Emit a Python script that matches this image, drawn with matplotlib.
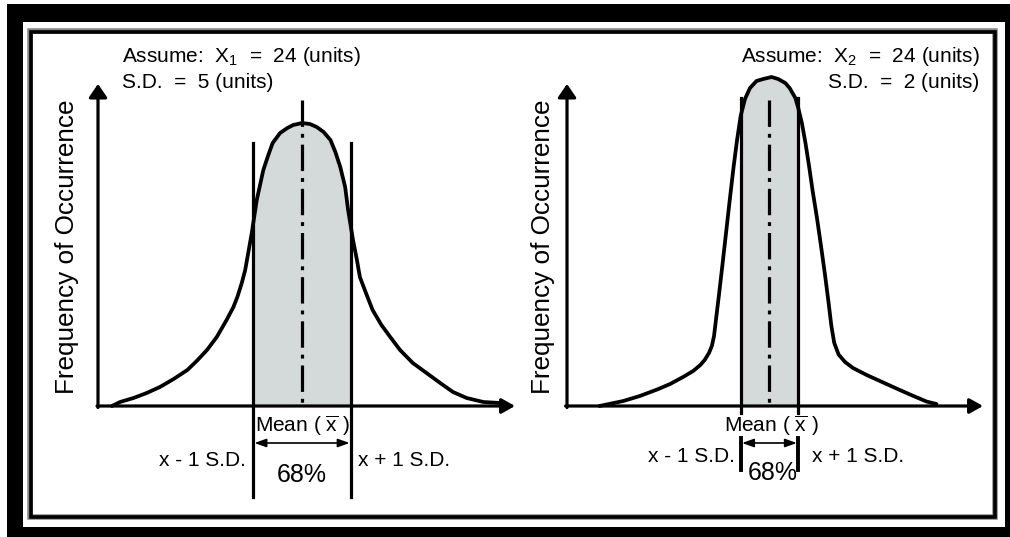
import numpy as np
import matplotlib
matplotlib.use('Agg')
import matplotlib.pyplot as plt
from matplotlib.patches import Rectangle

plt.rcParams['font.family'] = ['Liberation Sans', 'DejaVu Sans']
plt.rcParams['mathtext.fontset'] = 'custom'
plt.rcParams['mathtext.rm'] = 'Liberation Sans'
plt.rcParams['mathtext.it'] = 'Liberation Sans:italic'
plt.rcParams['lines.scale_dashes'] = False

MEAN = 24
SD_LEFT = 5
SD_RIGHT = 2

# curves (x in units, y = relative frequency)
left_x = [4.6, 5.43, 6.8, 8.15, 9.5, 10.9, 12.3, 13.25, 14.3, 15.3, 16.3, 17.0, 17.4, 17.85,
          18.2, 18.87, 19.38, 20.05, 20.56, 21.0, 21.76, 22.5, 23.1, 24.0, 24.8, 25.5, 26.2,
          26.9, 27.4, 27.9, 28.4, 28.7, 29.2, 29.6, 29.9, 30.6, 31.2, 32.1, 33.0, 34.0, 35.3,
          36.7, 38.1, 39.4, 40.8, 42.5, 44.2]
left_y = [0.0, 0.04, 0.08, 0.13, 0.19, 0.27, 0.36, 0.45, 0.56, 0.69, 0.86, 0.99, 1.09, 1.23,
          1.36, 1.73, 2.06, 2.36, 2.51, 2.63, 2.73, 2.78, 2.81, 2.83, 2.82, 2.79, 2.74,
          2.66, 2.54, 2.39, 2.19, 1.96, 1.66, 1.46, 1.29, 1.11, 0.96, 0.81, 0.69, 0.56, 0.43,
          0.33, 0.23, 0.14, 0.08, 0.04, 0.03]

right_x = [12.2, 13.85, 15.0, 16.2, 17.1, 18.0, 18.7, 19.2, 19.5, 19.8, 20.0, 20.15, 20.3, 20.5,
           20.75, 21.0, 21.25, 21.5, 21.75, 22.0, 22.3, 22.65, 23.1, 23.57, 24.15, 24.6,
           25.1, 25.4, 25.8, 26.0, 26.25, 26.5, 26.75, 27.0, 27.3, 27.6, 27.85, 28.1, 28.3,
           28.5, 28.8, 29.25, 29.8, 30.75, 31.9, 33.05, 34.0, 34.9, 35.6]
right_y = [0.0, 0.05, 0.10, 0.165, 0.22, 0.29, 0.35, 0.41, 0.46, 0.53, 0.60, 0.70, 0.88, 1.12,
           1.43, 1.75, 2.07, 2.38, 2.66, 2.90, 3.07, 3.18, 3.25, 3.27, 3.29, 3.27,
           3.23, 3.18, 3.08, 2.98, 2.83, 2.63, 2.40, 2.15, 1.88, 1.58, 1.32, 1.04, 0.80,
           0.63, 0.515, 0.44, 0.38, 0.31, 0.235, 0.16, 0.10, 0.045, 0.02]

ylabel = 'Frequency of Occurrence'
left_note = ['Assume:  X$_1$  =  24 (units)', 'S.D.  =  5 (units)']
right_note = ['Assume:  X$_2$  =  24 (units)', 'S.D.  =  2 (units)']

W, H = 1010, 537
GRAY = '#d4d9d9'

fig = plt.figure(figsize=(W / 100, H / 100), dpi=100)
fig.patch.set_facecolor('white')


def px_axes(x0, y0, x1, y1):
    return fig.add_axes([x0 / W, 1 - y1 / H, (x1 - x0) / W, (y1 - y0) / H])


# frame
frame = px_axes(0, 0, W, H)
frame.set_xlim(0, W)
frame.set_ylim(H, 0)
frame.axis('off')
frame.add_patch(Rectangle((7, 4), W - 7, H - 4, fc='black', ec='none'))
frame.add_patch(Rectangle((23, 22), 982, 505, fc='white', ec='none'))
frame.add_patch(Rectangle((30, 31), 965, 486, fill=False, ec='#888888', lw=4.0))
frame.add_patch(Rectangle((30.5, 31.5), 964, 485, fill=False, ec='black', lw=2.6))


def draw_panel(ax, xs, ys, sd, xlim, full_sd_lines):
    ax.set_xlim(*xlim)
    ax.set_ylim(0, 3.22)
    ax.axis('off')
    ax.patch.set_visible(False)
    lo, hi = MEAN - sd, MEAN + sd

    poly = ax.fill_between(xs, ys, 0, color=GRAY, lw=0, zorder=1)
    poly.set_clip_path(Rectangle((lo, 0), hi - lo, 5, transform=ax.transData))

    ax.plot(xs, ys, color='black', lw=2.7, solid_joinstyle='round',
            solid_capstyle='round', clip_on=False, zorder=3)

    # mean line
    ax.plot([MEAN, MEAN], [3.06, 0], color='black', lw=2.3,
            linestyle=(0, (19, 5, 2.8, 5)), dash_capstyle='butt', zorder=4, clip_on=False)

    # +-1 SD lines
    if full_sd_lines:
        for xv in (lo, hi):
            ax.plot([xv, xv], [2.63, -0.91], color='black', lw=2.3, clip_on=False, zorder=4)
    else:
        for xv in (lo, hi):
            ax.plot([xv, xv], [3.08, -0.07], color='black', lw=2.3, clip_on=False, zorder=4)
            ax.plot([xv, xv], [-0.32, -0.64], color='black', lw=2.8, clip_on=False, zorder=4)

    # axes with arrows
    x0, x1 = xlim
    ax.annotate('', xy=(x1, 0), xytext=(x0 - 0.1, 0), annotation_clip=False,
                arrowprops=dict(arrowstyle='-|>,head_length=0.8,head_width=0.45',
                                lw=2.3, color='black', shrinkA=0, shrinkB=0))
    ax.annotate('', xy=(x0, 3.22), xytext=(x0, -0.015), annotation_clip=False,
                arrowprops=dict(arrowstyle='-|>,head_length=0.8,head_width=0.55',
                                lw=2.3, color='black', shrinkA=0, shrinkB=0))

    # 68% arrow
    ax.annotate('', xy=(hi, -0.37), xytext=(lo, -0.37), annotation_clip=False,
                arrowprops=dict(arrowstyle='<|-|>,head_length=0.7,head_width=0.25',
                                lw=1.2, color='black', shrinkA=1, shrinkB=1))
    return lo, hi


# left panel
ax1 = px_axes(98, 84, 515, 406)
lo, hi = draw_panel(ax1, left_x, left_y, SD_LEFT, (3.18, 45.73), True)
ax1.text(lo + 0.2, -0.2, r'Mean ( $\overline{\mathrm{x}}$ )', fontsize=15, ha='left',
         va='center', clip_on=False)
ax1.text(18.3, -0.54, 'x - 1 S.D.', fontsize=15, ha='right', va='center')
ax1.text(29.7, -0.54, 'x + 1 S.D.', fontsize=15, ha='left', va='center')
ax1.text(MEAN, -0.69, '68%', fontsize=18, ha='center', va='center')
ax1.text(5.63, 3.44, left_note[0], fontsize=15, ha='left', va='baseline')
ax1.text(5.63, 3.18, left_note[1], fontsize=15, ha='left', va='baseline')
ax1.text(0.0, 1.59, ylabel, fontsize=18.8, rotation=90, ha='center', va='center')

# right panel
ax2 = px_axes(567, 84, 983, 406)
lo, hi = draw_panel(ax2, right_x, right_y, SD_RIGHT, (9.94, 38.83), False)
ax2.text(24.1, -0.2, r'Mean ( $\overline{\mathrm{x}}$ )', fontsize=15, ha='center',
         va='center')
ax2.text(21.6, -0.51, 'x - 1 S.D.', fontsize=15, ha='right', va='center')
ax2.text(26.95, -0.51, 'x + 1 S.D.', fontsize=15, ha='left', va='center')
ax2.text(24.2, -0.67, '68%', fontsize=18, ha='center', va='center')
ax2.text(38.6, 3.44, right_note[0], fontsize=15, ha='right', va='baseline')
ax2.text(38.6, 3.18, right_note[1], fontsize=15, ha='right', va='baseline')
ax2.text(8.3, 1.59, ylabel, fontsize=18.8, rotation=90, ha='center', va='center')

fig.savefig('out.png', dpi=100, facecolor='white')
